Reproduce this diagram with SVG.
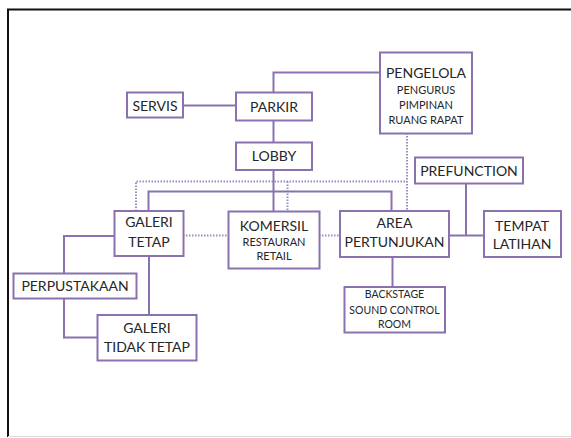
<svg xmlns="http://www.w3.org/2000/svg" width="571" height="438" viewBox="0 0 571 438">
<style>
.box{fill:#fff;stroke:#8a72b0;stroke-width:2}
.ln{fill:none;stroke:#8a72b0;stroke-width:2}
.dt{fill:none;stroke:#9d8cc0;stroke-width:2;stroke-dasharray:1.5 1.5}
text{font-family:Lato,"Open Sans","Liberation Sans",sans-serif;fill:#262626;text-anchor:middle}
.t{font-size:14px}
.s{font-size:11px}
.x{font-size:10.5px}
</style>
<rect x="0" y="0" width="571" height="438" fill="#fff"/>
<path d="M8 437 V9.5 H571" fill="none" stroke="#111" stroke-width="2"/>
<line x1="8" y1="436.5" x2="571" y2="436.5" stroke="#ddd" stroke-width="1"/>
<g id="connectors">
<path class="ln" d="M183 105.5 H236"/>
<path class="ln" d="M273.5 92 V72.5 H380"/>
<path class="ln" d="M273.5 121 V142"/>
<path class="ln" d="M273.5 170 V211"/>
<path class="dt" d="M407 133 V211"/>
<path class="dt" d="M136 211 V181.5 H407"/>
<path class="dt" d="M287.5 181.5 V211"/>
<path class="ln" d="M148.5 211 V191.5 H391.5 V211"/>
<path class="dt" d="M183 235.5 H228"/>
<path class="dt" d="M319 235.5 H340"/>
<path class="ln" d="M449 235.5 H484"/>
<path class="ln" d="M466 183 V235.5"/>
<path class="ln" d="M392.5 257 V287"/>
<path class="ln" d="M114 236 H64 V273"/>
<path class="ln" d="M64 298 V337.5 H97"/>
<path class="ln" d="M149 256 V315"/>
</g>
<g id="servis"><rect class="box" x="127" y="92.5" width="56" height="25"/><text class="t" x="155" y="111">SERVIS</text></g>
<g id="parkir"><rect class="box" x="236" y="92.5" width="76" height="28"/><text class="t" x="274" y="111.5">PARKIR</text></g>
<g id="lobby"><rect class="box" x="236" y="142.5" width="76" height="27.5"/><text class="t" x="274" y="160.5">LOBBY</text></g>
<g id="pengelola"><rect class="box" x="380" y="52.5" width="92" height="81"/><text class="t" x="426" y="77.5">PENGELOLA</text><text class="s" x="426" y="94">PENGURUS</text><text class="s" x="426" y="109">PIMPINAN</text><text class="s" x="426" y="124">RUANG RAPAT</text></g>
<g id="prefunction"><rect class="box" x="415" y="157.5" width="108" height="26"/><text class="t" x="469" y="175.5">PREFUNCTION</text></g>
<g id="galeri-tetap"><rect class="box" x="114.5" y="211" width="69" height="45"/><text class="t" x="149" y="226.5">GALERI</text><text class="t" x="149" y="247">TETAP</text></g>
<g id="komersil"><rect class="box" x="228.5" y="211.5" width="91" height="57"/><text class="t" x="274" y="230.5">KOMERSIL</text><text class="s" x="274" y="246">RESTAURAN</text><text class="s" x="274" y="260">RETAIL</text></g>
<g id="area-pertunjukan"><rect class="box" x="340" y="211" width="109" height="46"/><text class="t" x="394.5" y="227.5">AREA</text><text class="t" x="394.5" y="246.5">PERTUNJUKAN</text></g>
<g id="tempat-latihan"><rect class="box" x="484" y="211" width="77" height="46"/><text class="t" x="522" y="231">TEMPAT</text><text class="t" x="522" y="249">LATIHAN</text></g>
<g id="perpustakaan"><rect class="box" x="13.5" y="273.5" width="123" height="25"/><text class="t" x="75" y="290.5">PERPUSTAKAAN</text></g>
<g id="galeri-tidak-tetap"><rect class="box" x="97.5" y="315" width="99" height="45.5"/><text class="t" x="147" y="332.5">GALERI</text><text class="t" x="147" y="351.5">TIDAK TETAP</text></g>
<g id="backstage"><rect class="box" x="344.5" y="287" width="100.5" height="45.5"/><text class="x" x="394.5" y="298">BACKSTAGE</text><text class="x" x="394.5" y="314">SOUND CONTROL</text><text class="x" x="394.5" y="328">ROOM</text></g>
</svg>
